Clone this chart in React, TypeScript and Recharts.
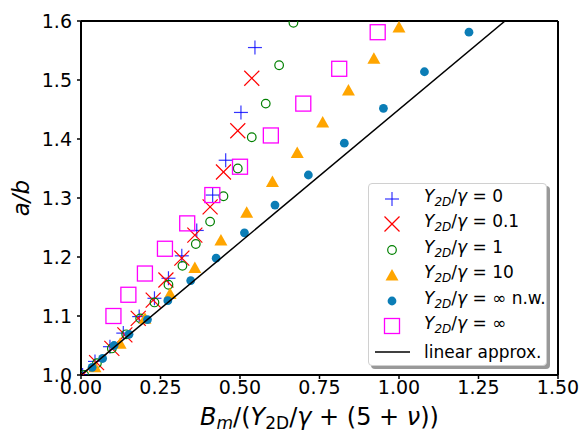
import React from 'react';
import { ScatterChart, Scatter, XAxis, YAxis } from 'recharts';

const FONT = '"DejaVu Sans", sans-serif';

// x = B_m/(Y_2D/gamma + (5 + nu)), y = a/b
const plusX = [0.005, 0.044, 0.091, 0.133, 0.183, 0.231, 0.275, 0.317, 0.364, 0.414, 0.455, 0.503, 0.547];
const plusY = [1.0, 1.023, 1.048, 1.071, 1.099, 1.13, 1.164, 1.202, 1.245, 1.305, 1.364, 1.445, 1.555];

const crossX = [0.005, 0.049, 0.097, 0.138, 0.18, 0.227, 0.267, 0.317, 0.358, 0.406, 0.448, 0.493, 0.537];
const crossY = [1.0, 1.021, 1.045, 1.068, 1.096, 1.127, 1.161, 1.198, 1.237, 1.285, 1.344, 1.414, 1.503];

const ringX = [0.01, 0.05, 0.097, 0.142, 0.186, 0.231, 0.275, 0.319, 0.361, 0.406, 0.448, 0.493, 0.537, 0.581, 0.623, 0.668];
const ringY = [1.0, 1.02, 1.045, 1.069, 1.096, 1.123, 1.153, 1.185, 1.222, 1.26, 1.303, 1.35, 1.403, 1.46, 1.525, 1.597];

const triX = [0.044, 0.123, 0.201, 0.28, 0.358, 0.44, 0.521, 0.602, 0.68, 0.76, 0.841, 0.921, 1.0];
const triY = [1.014, 1.054, 1.096, 1.138, 1.182, 1.229, 1.276, 1.328, 1.377, 1.429, 1.483, 1.537, 1.59];

const dotX = [0.035, 0.068, 0.104, 0.151, 0.209, 0.273, 0.345, 0.425, 0.514, 0.61, 0.715, 0.828, 0.951, 1.08, 1.22];
const dotY = [1.013, 1.028, 1.05, 1.069, 1.094, 1.126, 1.16, 1.198, 1.241, 1.288, 1.339, 1.393, 1.452, 1.514, 1.581];

const squareX = [0.102, 0.149, 0.201, 0.264, 0.334, 0.413, 0.5, 0.597, 0.699, 0.812, 0.933];
const squareY = [1.1, 1.136, 1.172, 1.214, 1.257, 1.305, 1.353, 1.406, 1.46, 1.519, 1.581];

const lineX = [0, 1.3333];
const lineY = [1.0, 1.6];

const xTicks = [0, 0.25, 0.5, 0.75, 1.0, 1.25, 1.5];
const yTicks = [1.0, 1.1, 1.2, 1.3, 1.4, 1.5, 1.6];

const zip = (xs: number[], ys: number[]) => xs.map((x, i) => ({ x, y: ys[i] }));

const BLUE = '#0000ff';
const RED = '#ff0000';
const GREEN = '#008000';
const ORANGE = '#ffa500';
const TEAL = '#0b7db6';
const MAGENTA = '#ff00ff';

const PlusMark = ({ cx, cy }: any) => (
  <g stroke={BLUE} strokeWidth={1.2} strokeOpacity={0.8}>
    <line x1={cx - 7} y1={cy} x2={cx + 7} y2={cy} />
    <line x1={cx} y1={cy - 7} x2={cx} y2={cy + 7} />
  </g>
);

const CrossMark = ({ cx, cy }: any) => (
  <g stroke={RED} strokeWidth={1.2}>
    <line x1={cx - 7.5} y1={cy - 7.5} x2={cx + 7.5} y2={cy + 7.5} />
    <line x1={cx - 7.5} y1={cy + 7.5} x2={cx + 7.5} y2={cy - 7.5} />
  </g>
);

const RingMark = ({ cx, cy }: any) => (
  <circle cx={cx} cy={cy} r={4.3} fill="none" stroke={GREEN} strokeWidth={1.2} />
);

const TriMark = ({ cx, cy }: any) => (
  <polygon points={`${cx},${cy - 6} ${cx - 6.5},${cy + 5.5} ${cx + 6.5},${cy + 5.5}`} fill={ORANGE} />
);

const DotMark = ({ cx, cy }: any) => <circle cx={cx} cy={cy} r={4.4} fill={TEAL} />;

const SquareMark = ({ cx, cy }: any) => (
  <rect x={cx - 7.5} y={cy - 7.5} width={15} height={15} fill="none" stroke={MAGENTA} strokeWidth={1.3} />
);

const NoMark = () => <g />;

const ratio = (value: React.ReactNode) => (
  <span>
    <i>Y</i>
    <sub style={{ fontSize: 12, fontStyle: 'italic', verticalAlign: -4 }}>2D</sub>/<i>γ</i> = {value}
  </span>
);

const legendRows = [
  { mark: <PlusMark cx={10} cy={10} />, label: ratio('0') },
  { mark: <CrossMark cx={10} cy={10} />, label: ratio('0.1') },
  { mark: <RingMark cx={10} cy={10} />, label: ratio('1') },
  { mark: <TriMark cx={10} cy={10} />, label: ratio('10') },
  { mark: <DotMark cx={10} cy={10} />, label: ratio('∞ n.w.') },
  { mark: <SquareMark cx={10} cy={10} />, label: ratio('∞') },
  { mark: <line x1={-7} y1={10} x2={28} y2={10} stroke="#000" strokeWidth={1.5} />, label: <span>linear approx.</span> },
];

const LegendBox = () => (
  <div
    style={{
      position: 'absolute',
      left: 368,
      top: 183,
      width: 179,
      height: 183,
      boxSizing: 'border-box',
      background: '#fff',
      border: '1px solid #d0d0d0',
      borderRadius: 4,
      boxShadow: '3px 3px 0 #999',
      fontFamily: FONT,
      fontSize: 17,
      color: '#000',
      padding: '2px 0 0 0',
    }}
  >
    {legendRows.map((r, i) => (
      <div key={i} style={{ display: 'flex', alignItems: 'center', height: 25.5 }}>
        <svg width={20} height={20} style={{ marginLeft: 13, overflow: 'visible' }}>
          {r.mark}
        </svg>
        <div style={{ marginLeft: 22, whiteSpace: 'nowrap', lineHeight: '20px' }}>{r.label}</div>
      </div>
    ))}
  </div>
);

const XTitle = ({ viewBox }: any) => {
  const cx = viewBox.x + viewBox.width / 2;
  return (
    <text x={cx} y={425} textAnchor="middle" fontFamily={FONT} fontSize={24} fill="#000">
      <tspan fontStyle="italic">B</tspan>
      <tspan fontStyle="italic" fontSize={17} dy={4}>m</tspan>
      <tspan dy={-4}>/(</tspan>
      <tspan fontStyle="italic">Y</tspan>
      <tspan fontSize={17} dy={4}>2D</tspan>
      <tspan dy={-4}>/</tspan>
      <tspan fontStyle="italic">γ</tspan>
      <tspan> + (5 + </tspan>
      <tspan fontStyle="italic">ν</tspan>
      <tspan>))</tspan>
    </text>
  );
};

const YTitle = () => (
  <text x={29} y={198} transform="rotate(-90 29 198)" textAnchor="middle" fontFamily={FONT} fontSize={23} fontStyle="italic" fill="#000">
    a/b
  </text>
);

const axisLine = { stroke: '#000', strokeWidth: 2 };
const tickLine = { stroke: '#000', strokeWidth: 1.5 };
const tickStyle = { fontFamily: FONT, fontSize: 19, fill: '#000' };

export default function App() {
  return (
    <div style={{ position: 'absolute', left: 0, top: 0, width: 585, height: 432, background: '#fff' }}>
      <ScatterChart width={585} height={432} margin={{ top: 20, right: 26, bottom: 0, left: 0 }}>
        <XAxis
          xAxisId="b"
          dataKey="x"
          type="number"
          domain={[0, 1.5]}
          ticks={xTicks}
          allowDataOverflow
          height={57}
          tickSize={4}
          tickMargin={2}
          axisLine={axisLine}
          tickLine={tickLine}
          tick={tickStyle}
          tickFormatter={(v: number) => v.toFixed(2)}
          label={<XTitle />}
        />
        <XAxis
          xAxisId="t"
          dataKey="x"
          orientation="top"
          type="number"
          domain={[0, 1.5]}
          ticks={xTicks}
          allowDataOverflow
          height={1}
          tickSize={4}
          axisLine={axisLine}
          tickLine={tickLine}
          tick={false}
        />
        <YAxis
          yAxisId="l"
          dataKey="y"
          type="number"
          domain={[1.0, 1.6]}
          ticks={yTicks}
          allowDataOverflow
          width={81}
          tickSize={4}
          tickMargin={5}
          axisLine={axisLine}
          tickLine={tickLine}
          tick={tickStyle}
          tickFormatter={(v: number) => v.toFixed(1)}
          label={<YTitle />}
        />
        <YAxis
          yAxisId="r"
          dataKey="y"
          orientation="right"
          type="number"
          domain={[1.0, 1.6]}
          ticks={yTicks}
          allowDataOverflow
          width={1}
          tickSize={4}
          axisLine={axisLine}
          tickLine={tickLine}
          tick={false}
        />
        <Scatter xAxisId="b" yAxisId="l" data={zip(plusX, plusY)} shape={PlusMark} isAnimationActive={false} />
        <Scatter xAxisId="b" yAxisId="l" data={zip(crossX, crossY)} shape={CrossMark} isAnimationActive={false} />
        <Scatter xAxisId="b" yAxisId="l" data={zip(ringX, ringY)} shape={RingMark} isAnimationActive={false} />
        <Scatter xAxisId="b" yAxisId="l" data={zip(triX, triY)} shape={TriMark} isAnimationActive={false} />
        <Scatter xAxisId="b" yAxisId="l" data={zip(dotX, dotY)} shape={DotMark} isAnimationActive={false} />
        <Scatter xAxisId="b" yAxisId="l" data={zip(squareX, squareY)} shape={SquareMark} isAnimationActive={false} />
        <Scatter
          xAxisId="b"
          yAxisId="l"
          data={zip(lineX, lineY)}
          line={{ stroke: '#000', strokeWidth: 1.5 }}
          shape={NoMark}
          isAnimationActive={false}
        />
        {/* binds the top and right frame axes so they get drawn */}
        <Scatter xAxisId="t" yAxisId="r" data={zip(lineX, lineY)} shape={NoMark} isAnimationActive={false} />
      </ScatterChart>
      <LegendBox />
    </div>
  );
}
